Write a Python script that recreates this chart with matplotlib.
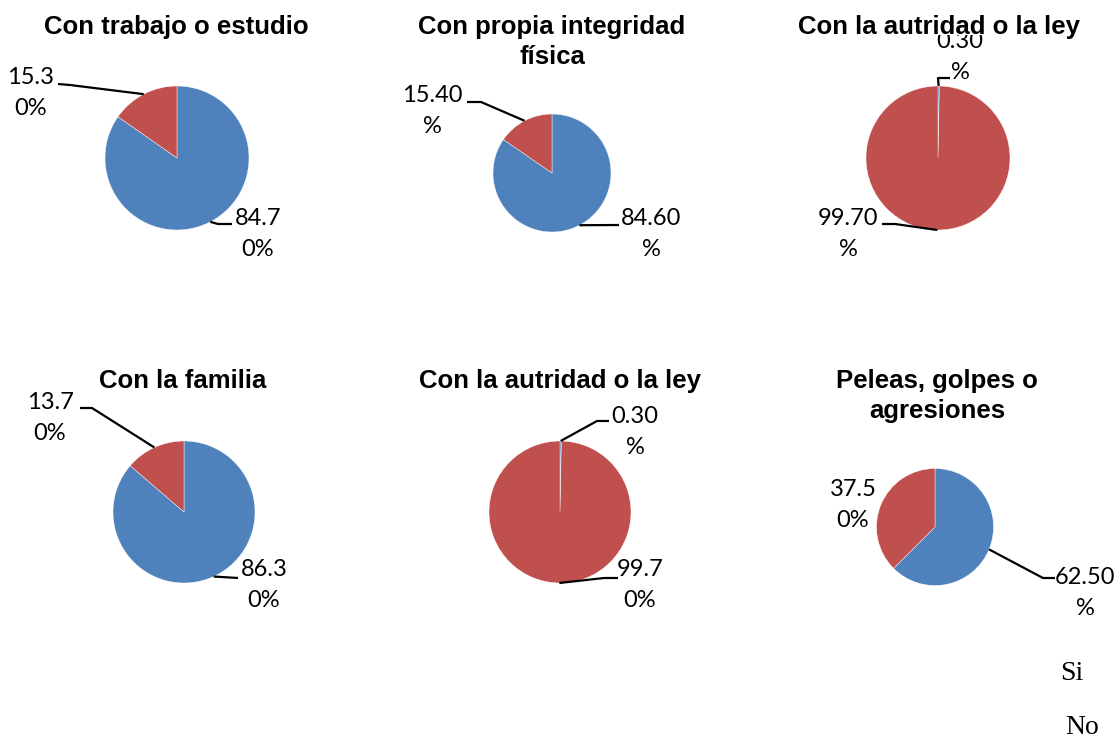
import matplotlib
matplotlib.use('Agg')
import matplotlib.pyplot as plt
import numpy as np

W, H = 1119, 740

titles = ['Con trabajo o estudio', 'Con propia integridad\nfísica', 'Con la autridad o la ley',
          'Con la familia', 'Con la autridad o la ley', 'Peleas, golpes o\nagresiones']
si = [84.7, 84.6, 0.3, 86.3, 0.3, 62.5]
no = [15.3, 15.4, 99.7, 13.7, 99.7, 37.5]
series = ['Si', 'No']
colors = ['#4F81BD', '#C0504D']

# layout in pixels (y downwards)
centers = [(177, 158), (552, 173), (938, 158), (184, 512), (560, 512), (935, 527)]
radii = [72, 59, 72, 71, 71, 58.5]
title_xy = [(176, 27), (552, 42), (939, 27), (183, 381), (560, 381), (937, 396)]
# (text centre, chars on first line, leader points after the anchor)
si_labels = [((258, 234), 4, [(218, 224), (232, 224)]),
             ((651, 234), 5, [(619, 225)]),
             ((960, 57), 4, [(938, 78), (950, 78)]),
             ((264, 585), 4, [(238, 578)]),
             ((635, 432), 4, [(597, 421), (609, 421)]),
             ((1085, 593), 5, [(1043, 578), (1055, 578)])]
no_labels = [((31, 93), 4, [(70, 85), (58, 84)]),
             ((432, 111), 5, [(481, 102), (467, 102)]),
             ((848, 234), 5, [(895, 224), (882, 224)]),
             ((50, 418), 4, [(92, 408), (80, 408)]),
             ((640, 585), 4, [(604, 578), (618, 578)]),
             ((853, 505), 4, [])]

fig = plt.figure(figsize=(W / 100, H / 100), dpi=100)
ax = fig.add_axes([0, 0, 1, 1])

label_font = dict(family='Lato', fontsize=17)

for i in range(6):
    cx, cy = centers[i]
    wedges, _ = ax.pie([si[i], no[i]], colors=colors, center=(cx, cy), radius=radii[i],
                       startangle=-90, counterclock=True,
                       wedgeprops=dict(edgecolor='white', linewidth=0.3))
    ax.text(title_xy[i][0], title_xy[i][1], titles[i], ha='center', va='center',
            family='Liberation Sans', fontweight='bold', fontsize=18.5, linespacing=1.3,
            zorder=5, bbox=dict(facecolor='white', edgecolor='none', pad=-3))

    for w, val, (txy, wrap, pts) in zip(wedges, [si[i], no[i]], [si_labels[i], no_labels[i]]):
        s = f'{val:.2f}%'
        s = s[:wrap] + '\n' + s[wrap:]
        ax.text(txy[0], txy[1], s, ha='center', va='center', linespacing=1.55, **label_font)
        if pts:
            # leader line from the middle of the wedge's arc
            th = np.deg2rad((w.theta1 + w.theta2) / 2)
            x0 = w.center[0] + w.r * np.cos(th)
            y0 = w.center[1] + w.r * np.sin(th)
            xs = [x0] + [p[0] for p in pts]
            ys = [y0] + [p[1] for p in pts]
            ax.plot(xs, ys, color='black', lw=1.6, solid_capstyle='butt')

ax.text(1072, 673, series[0], ha='center', va='center', family='Liberation Serif', fontsize=20)
ax.text(1082, 728, series[1], ha='center', va='center', family='Liberation Serif', fontsize=20)

ax.set_xlim(0, W)
ax.set_ylim(H, 0)
ax.set_aspect('equal')
ax.axis('off')

fig.savefig('out.png', dpi=100, facecolor='white')
